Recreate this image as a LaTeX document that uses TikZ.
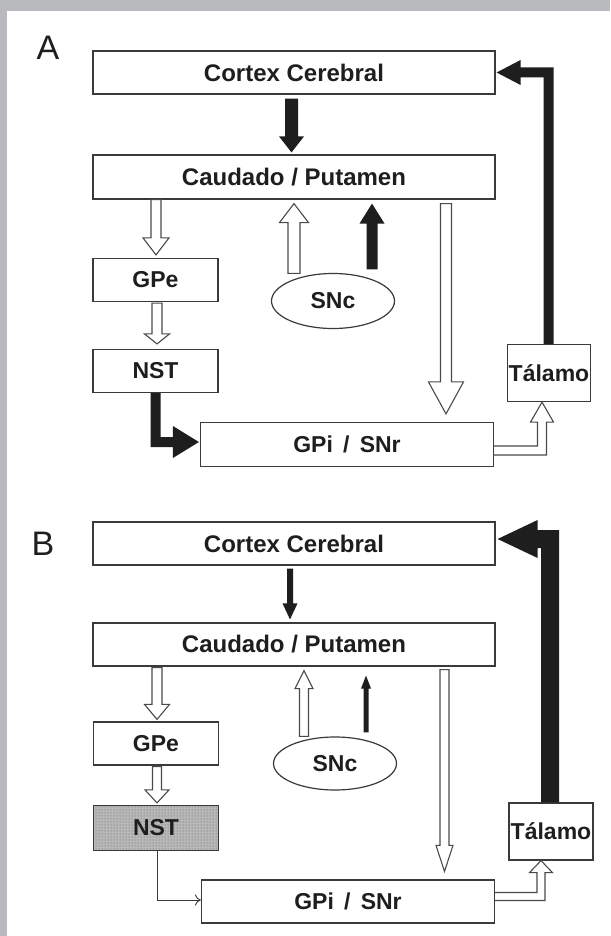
\documentclass[tikz,border=0pt]{standalone}
\usepackage{fontspec}
\setmainfont{Liberation Sans}
\usetikzlibrary{calc,shapes.geometric,patterns,arrows.meta}

\definecolor{framegray}{HTML}{B9BABE}
\definecolor{ink}{HTML}{1E1E1E}
\definecolor{edge}{HTML}{3A3A3A}
\definecolor{hollowedge}{HTML}{4A4A4A}

% straight vertical block arrow: style, x, tail point, head point, shaft half-width, head half-width, head length
\newcommand\vblock[7]{%
  \path[#1] let \p1=#3, \p2=#4, \n1={sign(\y2-\y1)} in
    ({#2pt-#5pt},\y1) -- ({#2pt-#5pt},{\y2-(\n1)*#7pt}) -- ({#2pt-#6pt},{\y2-(\n1)*#7pt}) -- ({#2pt},\y2)
    -- ({#2pt+#6pt},{\y2-(\n1)*#7pt}) -- ({#2pt+#5pt},{\y2-(\n1)*#7pt}) -- ({#2pt+#5pt},\y1) -- cycle;}

% elbow block arrow, vertical leg first: style, tail, head, shaft half-width, head half-width, head length
\newcommand\elbowvh[6]{%
  \path[#1] let \p1=#2, \p2=#3, \n1={sign(\y2-\y1)}, \n2={sign(\x2-\x1)} in
    ({\x1-(\n2)*#4pt},\y1) -- ({\x1-(\n2)*#4pt},{\y2+(\n1)*#4pt}) -- ({\x2-(\n2)*#6pt},{\y2+(\n1)*#4pt})
    -- ({\x2-(\n2)*#6pt},{\y2+(\n1)*#5pt}) -- (\x2,\y2) -- ({\x2-(\n2)*#6pt},{\y2-(\n1)*#5pt})
    -- ({\x2-(\n2)*#6pt},{\y2-(\n1)*#4pt}) -- ({\x1+(\n2)*#4pt},{\y2-(\n1)*#4pt}) -- ({\x1+(\n2)*#4pt},\y1) -- cycle;}

% elbow block arrow, horizontal leg first, open at the tail
\newcommand\elbowhv[6]{%
  \path[#1] let \p1=#2, \p2=#3, \n1={sign(\y2-\y1)}, \n2={sign(\x2-\x1)} in
    (\x1,{\y1-(\n1)*#4pt}) -- ({\x2+(\n2)*#4pt},{\y1-(\n1)*#4pt}) -- ({\x2+(\n2)*#4pt},{\y2-(\n1)*#6pt})
    -- ({\x2+(\n2)*#5pt},{\y2-(\n1)*#6pt}) -- (\x2,\y2) -- ({\x2-(\n2)*#5pt},{\y2-(\n1)*#6pt})
    -- ({\x2-(\n2)*#4pt},{\y2-(\n1)*#6pt}) -- ({\x2-(\n2)*#4pt},{\y1+(\n1)*#4pt}) -- (\x1,{\y1+(\n1)*#4pt});}

\tikzset{
  box/.style={draw=edge, line width=1.2pt, fill=white, inner sep=0pt,
    font=\fontsize{23}{27}\selectfont\bfseries, text=ink},
  widebox/.style={box, minimum width=402pt, minimum height=43pt,
    font=\fontsize{24}{28}\selectfont\bfseries},
  narrowbox/.style={box, minimum width=125pt, minimum height=43pt},
  gpibox/.style={box, minimum width=293pt, minimum height=44pt},
  talbox/.style={box, minimum width=83pt, minimum height=57pt},
  sncshape/.style={box, ellipse, minimum width=123pt, minimum height=55pt},
  shaded/.style={fill=black!28, postaction={pattern=dots, pattern color=black!65}},
  panel/.style={font=\fontsize{34}{38}\selectfont, text=ink},
  solidarrow/.style={fill=ink},
  hollowarrow/.style={draw=hollowedge, line width=1.1pt, fill=white, line join=miter},
}

\begin{document}
\begin{tikzpicture}[x=1pt, y=-1pt]
  \useasboundingbox (0,0) rectangle (610,936);
  \fill[white] (0,0) rectangle (610,936);
  \fill[framegray] (0,0) rectangle (610,11);
  \fill[framegray] (0,0) rectangle (7,936);

  % ---------- panel A ----------
  \node[panel] (labA) at (48,48) {A};
  \node[widebox] (cortexA) at (294,72.5) {Cortex Cerebral};
  \node[widebox, minimum height=44pt] (caudA) at (294,177) {Caudado / Putamen};
  \node[narrowbox] (gpeA) at (155.5,280) {GPe};
  \node[narrowbox] (nstA) at (155.5,371) {NST};
  \node[sncshape] (sncA) at (333,301) {SNc};
  \node[gpibox] (gpiA) at (347,444.5) {GPi\, /\, SNr};
  \node[talbox] (talA) at (549,373) {Tálamo};

  \vblock{solidarrow}{291.5}{($(cortexA.south)+(0,4)$)}{($(caudA.north)+(0,-2)$)}{6.5}{12.5}{16}
  \vblock{hollowarrow}{156}{(caudA.south)}{($(gpeA.north)+(0,-3)$)}{5}{13}{17}
  \vblock{hollowarrow}{157}{($(gpeA.south)+(0,1)$)}{($(nstA.north)+(0,-5)$)}{5}{12.5}{10}
  \vblock{hollowarrow}{294}{($(sncA.north)+(0,0.5)$)}{($(caudA.south)+(0,4)$)}{6}{14.5}{19}
  \vblock{solidarrow}{372}{($(sncA.north)+(0,-3.5)$)}{($(caudA.south)+(0,4)$)}{5.5}{12.5}{20}
  \vblock{hollowarrow}{446}{($(caudA.south)+(0,4)$)}{($(gpiA.north)+(0,-8)$)}{5.5}{17.5}{32}
  \elbowvh{solidarrow}{($(nstA.south)+(0,0)$)}{($(gpiA.west)+(-1,-2.5)$)}{5}{16}{26}
  \elbowhv{hollowarrow}{($(gpiA.east)+(0,6)$)}{($(talA.south)+(-7,0)$)}{4.5}{11.5}{20}
  \elbowvh{solidarrow}{($(talA.north)+(-0.5,0)$)}{($(cortexA.east)+(1,0)$)}{5}{12.5}{24}

  % ---------- panel B ----------
  \node[panel] (labB) at (43,544) {B};
  \node[widebox] (cortexB) at (294,543.5) {Cortex Cerebral};
  \node[widebox] (caudB) at (294,644.5) {Caudado / Putamen};
  \node[narrowbox] (gpeB) at (156,743.5) {GPe};
  \node[narrowbox, minimum height=45pt, shaded] (nstB) at (156,828) {NST};
  \node[sncshape, minimum height=53pt] (sncB) at (335,763.5) {SNc};
  \node[gpibox, minimum height=43pt] (gpiB) at (348,901.5) {GPi\, /\, SNr};
  \node[talbox, minimum width=84pt] (talB) at (551,831.5) {Tálamo};

  \vblock{solidarrow}{290}{($(cortexB.south)+(0,3)$)}{($(caudB.north)+(0,-3)$)}{3}{7.5}{16}
  \vblock{hollowarrow}{157}{($(caudB.south)+(0,1)$)}{($(gpeB.north)+(0,-2)$)}{5}{12.5}{15}
  \vblock{hollowarrow}{157}{($(gpeB.south)+(0,1)$)}{($(nstB.north)+(0,-2)$)}{4.5}{12}{13}
  \vblock{hollowarrow}{304}{(sncB.north)}{($(caudB.south)+(0,4)$)}{4.5}{9}{18}
  \vblock{solidarrow}{366}{($(sncB.north)+(0,-4)$)}{($(caudB.south)+(0,9)$)}{2.5}{5}{13}
  \vblock{hollowarrow}{444.5}{($(caudB.south)+(0,3)$)}{($(gpiB.north)+(0,-8)$)}{4.5}{8.5}{26}
  \draw[line width=0.9pt, draw=edge, -{To[length=6pt,width=11pt]}]
    ($(nstB.south)+(1,0)$) |- ($(gpiB.west)+(0,-1.5)$);
  \elbowhv{hollowarrow}{($(gpiB.east)+(0,-5)$)}{($(talB.south)+(-10,0)$)}{4}{11.5}{12}
  \elbowvh{solidarrow}{($(talB.north)+(-1,0)$)}{($(cortexB.east)+(2,-4.5)$)}{9}{19}{40}
\end{tikzpicture}
\end{document}
